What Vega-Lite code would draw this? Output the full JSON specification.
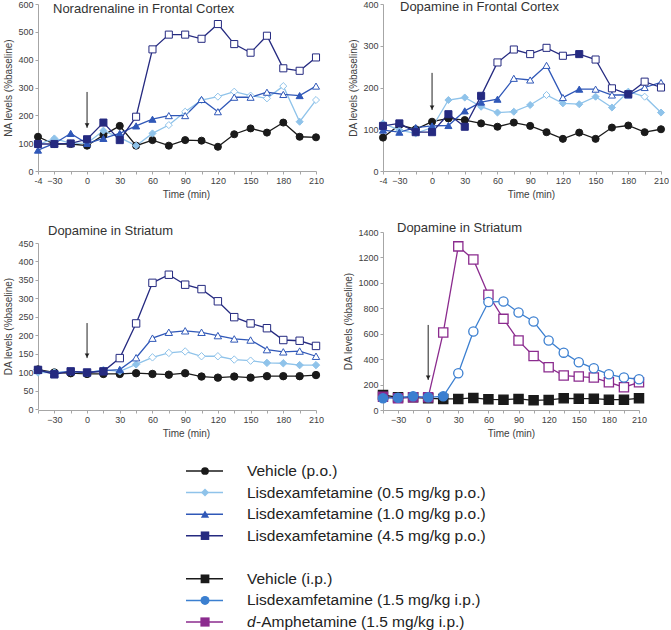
{
"$schema":"https://vega.github.io/schema/vega-lite/v6.json",
"background":"white",
"padding":{"left":3,"top":0,"right":0,"bottom":0},
"bounds":"flush",
"columns":2,
"spacing":{"row":61,"column":67},
"resolve":{"scale":{"x":"independent","y":"independent"}},
"datasets":{
"p1":[
{"s":"VP","t":-45,"v":123},{"s":"VP","t":-30,"v":97},{"s":"VP","t":-15,"v":97},{"s":"VP","t":0,"v":91},{"s":"VP","t":15,"v":129},{"s":"VP","t":30,"v":162},{"s":"VP","t":45,"v":91},{"s":"VP","t":60,"v":111},{"s":"VP","t":75,"v":91},{"s":"VP","t":90,"v":111},{"s":"VP","t":105,"v":109},{"s":"VP","t":120,"v":87},{"s":"VP","t":135,"v":132},{"s":"VP","t":150,"v":153},{"s":"VP","t":165,"v":138},{"s":"VP","t":180,"v":174},{"s":"VP","t":195,"v":123},{"s":"VP","t":210,"v":121},
{"s":"L05","t":-45,"v":95},{"s":"L05","t":-30,"v":117},{"s":"L05","t":-15,"v":99},{"s":"L05","t":0,"v":100},{"s":"L05","t":15,"v":145},{"s":"L05","t":30,"v":120},{"s":"L05","t":45,"v":91},{"s":"L05","t":60,"v":135},{"s":"L05","t":75,"v":165,"o":1},{"s":"L05","t":90,"v":213,"o":1},{"s":"L05","t":105,"v":255,"o":1},{"s":"L05","t":120,"v":267,"o":1},{"s":"L05","t":135,"v":285,"o":1},{"s":"L05","t":150,"v":271,"o":1},{"s":"L05","t":165,"v":261,"o":1},{"s":"L05","t":180,"v":305,"o":1},{"s":"L05","t":195,"v":177},{"s":"L05","t":210,"v":255,"o":1},
{"s":"L10","t":-45,"v":75},{"s":"L10","t":-30,"v":99},{"s":"L10","t":-15,"v":135},{"s":"L10","t":0,"v":99},{"s":"L10","t":15,"v":117},{"s":"L10","t":30,"v":135},{"s":"L10","t":45,"v":162},{"s":"L10","t":60,"v":186},{"s":"L10","t":75,"v":199,"o":1},{"s":"L10","t":90,"v":199,"o":1},{"s":"L10","t":105,"v":257,"o":1},{"s":"L10","t":120,"v":213,"o":1},{"s":"L10","t":135,"v":265,"o":1},{"s":"L10","t":150,"v":265,"o":1},{"s":"L10","t":165,"v":283,"o":1},{"s":"L10","t":180,"v":275,"o":1},{"s":"L10","t":195,"v":271},{"s":"L10","t":210,"v":305,"o":1},
{"s":"L45","t":-45,"v":97},{"s":"L45","t":-30,"v":97},{"s":"L45","t":-15,"v":99},{"s":"L45","t":0,"v":114},{"s":"L45","t":15,"v":174},{"s":"L45","t":30,"v":111},{"s":"L45","t":45,"v":195,"o":1},{"s":"L45","t":60,"v":437,"o":1},{"s":"L45","t":75,"v":490,"o":1},{"s":"L45","t":90,"v":490,"o":1},{"s":"L45","t":105,"v":475,"o":1},{"s":"L45","t":120,"v":528,"o":1},{"s":"L45","t":135,"v":456,"o":1},{"s":"L45","t":150,"v":425,"o":1},{"s":"L45","t":165,"v":486,"o":1},{"s":"L45","t":180,"v":369,"o":1},{"s":"L45","t":195,"v":360,"o":1},{"s":"L45","t":210,"v":408,"o":1}
],
"p2":[
{"s":"VP","t":-45,"v":80},{"s":"VP","t":-30,"v":110},{"s":"VP","t":-15,"v":100},{"s":"VP","t":0,"v":118},{"s":"VP","t":15,"v":126},{"s":"VP","t":30,"v":122},{"s":"VP","t":45,"v":114},{"s":"VP","t":60,"v":106},{"s":"VP","t":75,"v":116},{"s":"VP","t":90,"v":108},{"s":"VP","t":105,"v":93},{"s":"VP","t":120,"v":77},{"s":"VP","t":135,"v":92},{"s":"VP","t":150,"v":77},{"s":"VP","t":165,"v":104},{"s":"VP","t":180,"v":109},{"s":"VP","t":195,"v":93},{"s":"VP","t":210,"v":100},
{"s":"L05","t":-45,"v":114},{"s":"L05","t":-30,"v":98},{"s":"L05","t":-15,"v":90},{"s":"L05","t":0,"v":104},{"s":"L05","t":15,"v":170},{"s":"L05","t":30,"v":176},{"s":"L05","t":45,"v":154},{"s":"L05","t":60,"v":140},{"s":"L05","t":75,"v":142},{"s":"L05","t":90,"v":158},{"s":"L05","t":105,"v":182,"o":1},{"s":"L05","t":120,"v":162},{"s":"L05","t":135,"v":160},{"s":"L05","t":150,"v":178},{"s":"L05","t":165,"v":152},{"s":"L05","t":180,"v":190},{"s":"L05","t":195,"v":178,"o":1},{"s":"L05","t":210,"v":140},
{"s":"L10","t":-45,"v":98},{"s":"L10","t":-30,"v":93},{"s":"L10","t":-15,"v":104},{"s":"L10","t":0,"v":108},{"s":"L10","t":15,"v":109},{"s":"L10","t":30,"v":144},{"s":"L10","t":45,"v":165},{"s":"L10","t":60,"v":172},{"s":"L10","t":75,"v":222,"o":1},{"s":"L10","t":90,"v":218,"o":1},{"s":"L10","t":105,"v":253,"o":1},{"s":"L10","t":120,"v":176,"o":1},{"s":"L10","t":135,"v":196},{"s":"L10","t":150,"v":196,"o":1},{"s":"L10","t":165,"v":182,"o":1},{"s":"L10","t":180,"v":182,"o":1},{"s":"L10","t":195,"v":200,"o":1},{"s":"L10","t":210,"v":212,"o":1},
{"s":"L45","t":-45,"v":108},{"s":"L45","t":-30,"v":114},{"s":"L45","t":-15,"v":93},{"s":"L45","t":0,"v":93},{"s":"L45","t":15,"v":136},{"s":"L45","t":30,"v":106},{"s":"L45","t":45,"v":180},{"s":"L45","t":60,"v":260,"o":1},{"s":"L45","t":75,"v":291,"o":1},{"s":"L45","t":90,"v":280,"o":1},{"s":"L45","t":105,"v":295,"o":1},{"s":"L45","t":120,"v":276,"o":1},{"s":"L45","t":135,"v":280},{"s":"L45","t":150,"v":267,"o":1},{"s":"L45","t":165,"v":198,"o":1},{"s":"L45","t":180,"v":184},{"s":"L45","t":195,"v":214,"o":1},{"s":"L45","t":210,"v":200,"o":1}
],
"p3":[
{"s":"VP","t":-45,"v":107},{"s":"VP","t":-30,"v":99},{"s":"VP","t":-15,"v":97},{"s":"VP","t":0,"v":95},{"s":"VP","t":15,"v":95},{"s":"VP","t":30,"v":95},{"s":"VP","t":45,"v":97},{"s":"VP","t":60,"v":95},{"s":"VP","t":75,"v":93},{"s":"VP","t":90,"v":97},{"s":"VP","t":105,"v":88},{"s":"VP","t":120,"v":85},{"s":"VP","t":135,"v":88},{"s":"VP","t":150,"v":85},{"s":"VP","t":165,"v":89},{"s":"VP","t":180,"v":89},{"s":"VP","t":195,"v":89},{"s":"VP","t":210,"v":92},
{"s":"L05","t":-45,"v":99},{"s":"L05","t":-30,"v":99},{"s":"L05","t":-15,"v":101},{"s":"L05","t":0,"v":98},{"s":"L05","t":15,"v":106},{"s":"L05","t":30,"v":102},{"s":"L05","t":45,"v":121},{"s":"L05","t":60,"v":140,"o":1},{"s":"L05","t":75,"v":152,"o":1},{"s":"L05","t":90,"v":156,"o":1},{"s":"L05","t":105,"v":143,"o":1},{"s":"L05","t":120,"v":143,"o":1},{"s":"L05","t":135,"v":134,"o":1},{"s":"L05","t":150,"v":131,"o":1},{"s":"L05","t":165,"v":125},{"s":"L05","t":180,"v":124},{"s":"L05","t":195,"v":119},{"s":"L05","t":210,"v":119},
{"s":"L10","t":-45,"v":105},{"s":"L10","t":-30,"v":97},{"s":"L10","t":-15,"v":102},{"s":"L10","t":0,"v":99},{"s":"L10","t":15,"v":104},{"s":"L10","t":30,"v":107},{"s":"L10","t":45,"v":139,"o":1},{"s":"L10","t":60,"v":192,"o":1},{"s":"L10","t":75,"v":208,"o":1},{"s":"L10","t":90,"v":212,"o":1},{"s":"L10","t":105,"v":208,"o":1},{"s":"L10","t":120,"v":199,"o":1},{"s":"L10","t":135,"v":190,"o":1},{"s":"L10","t":150,"v":187,"o":1},{"s":"L10","t":165,"v":161,"o":1},{"s":"L10","t":180,"v":155,"o":1},{"s":"L10","t":195,"v":157,"o":1},{"s":"L10","t":210,"v":143,"o":1},
{"s":"L45","t":-45,"v":106},{"s":"L45","t":-30,"v":94},{"s":"L45","t":-15,"v":102},{"s":"L45","t":0,"v":99},{"s":"L45","t":15,"v":102},{"s":"L45","t":30,"v":138,"o":1},{"s":"L45","t":45,"v":232,"o":1},{"s":"L45","t":60,"v":342,"o":1},{"s":"L45","t":75,"v":364,"o":1},{"s":"L45","t":90,"v":337,"o":1},{"s":"L45","t":105,"v":325,"o":1},{"s":"L45","t":120,"v":292,"o":1},{"s":"L45","t":135,"v":249,"o":1},{"s":"L45","t":150,"v":232,"o":1},{"s":"L45","t":165,"v":219,"o":1},{"s":"L45","t":180,"v":187,"o":1},{"s":"L45","t":195,"v":185,"o":1},{"s":"L45","t":210,"v":171,"o":1}
],
"p4":[
{"s":"VI","t":-45,"v":118},{"s":"VI","t":-30,"v":100},{"s":"VI","t":-15,"v":100},{"s":"VI","t":0,"v":92},{"s":"VI","t":15,"v":87},{"s":"VI","t":30,"v":87},{"s":"VI","t":45,"v":95},{"s":"VI","t":60,"v":84},{"s":"VI","t":75,"v":81},{"s":"VI","t":90,"v":87},{"s":"VI","t":105,"v":76},{"s":"VI","t":120,"v":79},{"s":"VI","t":135,"v":92},{"s":"VI","t":150,"v":89},{"s":"VI","t":165,"v":89},{"s":"VI","t":180,"v":81},{"s":"VI","t":195,"v":81},{"s":"VI","t":210,"v":92},
{"s":"DA","t":-45,"v":105},{"s":"DA","t":-30,"v":92},{"s":"DA","t":-15,"v":100},{"s":"DA","t":0,"v":100},{"s":"DA","t":15,"v":609,"o":1},{"s":"DA","t":30,"v":1287,"o":1},{"s":"DA","t":45,"v":1184,"o":1},{"s":"DA","t":60,"v":906,"o":1},{"s":"DA","t":75,"v":717,"o":1},{"s":"DA","t":90,"v":546,"o":1},{"s":"DA","t":105,"v":425,"o":1},{"s":"DA","t":120,"v":336,"o":1},{"s":"DA","t":135,"v":271,"o":1},{"s":"DA","t":150,"v":263,"o":1},{"s":"DA","t":165,"v":255,"o":1},{"s":"DA","t":180,"v":218,"o":1},{"s":"DA","t":195,"v":179,"o":1},{"s":"DA","t":210,"v":218,"o":1},
{"s":"LI","t":-45,"v":92},{"s":"LI","t":-30,"v":97},{"s":"LI","t":-15,"v":108},{"s":"LI","t":0,"v":100},{"s":"LI","t":15,"v":108},{"s":"LI","t":30,"v":289,"o":1},{"s":"LI","t":45,"v":617,"o":1},{"s":"LI","t":60,"v":849,"o":1},{"s":"LI","t":75,"v":854,"o":1},{"s":"LI","t":90,"v":767,"o":1},{"s":"LI","t":105,"v":696,"o":1},{"s":"LI","t":120,"v":546,"o":1},{"s":"LI","t":135,"v":451,"o":1},{"s":"LI","t":150,"v":376,"o":1},{"s":"LI","t":165,"v":328,"o":1},{"s":"LI","t":180,"v":281,"o":1},{"s":"LI","t":195,"v":255,"o":1},{"s":"LI","t":210,"v":242,"o":1}
],
"leg":[
{"s":"VP","label":"Vehicle (p.o.)"},{"s":"L05","label":"Lisdexamfetamine (0.5 mg/kg p.o.)"},{"s":"L10","label":"Lisdexamfetamine (1.0 mg/kg p.o.)"},{"s":"L45","label":"Lisdexamfetamine (4.5 mg/kg p.o.)"},{"s":"VI","label":"Vehicle (i.p.)"},{"s":"LI","label":"Lisdexamfetamine (1.5 mg/kg i.p.)"},{"s":"DA","label":"-Amphetamine (1.5 mg/kg i.p.)"}
]
},
"concat":[
{"width":278,"height":167,
"title":{"text":"Noradrenaline in Frontal Cortex","anchor":"start","frame":"group","dx":15,"offset":-16},
"layer":[
{"data":{"name":"p1"},"mark":{"type":"line","strokeWidth":1.3},"encoding":{
"x":{"field":"t","type":"quantitative","title":"Time (min)","scale":{"domain":[-45,210],"nice":false,"zero":false},"axis":{"values":[-45,-30,-15,0,15,30,45,60,75,90,105,120,135,150,165,180,195,210],"tickCount":100,"titleX":148,"labelExpr":"datum.value == -45 ? '-4' : (datum.value % 30 == 0 ? datum.label : '')","labelFlush":false,"labelOverlap":false}},
"y":{"field":"v","type":"quantitative","title":"NA levels (%baseline)","scale":{"domain":[0,600],"nice":false},"axis":{"values":[0,100,200,300,400,500,600],"tickCount":100,"labelOverlap":false}},
"color":{"field":"s","type":"nominal","scale":{"domain":["VP","L05","L10","L45","VI","LI","DA"],"range":["#1a1a1a","#8fc3ea","#3058b8","#252a80","#1a1a1a","#3b7fd0","#8b2b8e"]},"legend":null}}},
{"data":{"name":"p1"},"mark":{"type":"point","filled":true,"size":50,"strokeWidth":1,"opacity":1},"encoding":{
"x":{"field":"t","type":"quantitative","title":"Time (min)"},
"y":{"field":"v","type":"quantitative","title":"NA levels (%baseline)"},
"shape":{"field":"s","type":"nominal","scale":{"domain":["VP","L05","L10","L45","VI","LI","DA"],"range":["circle","diamond","triangle-up","square","square","circle","square"]},"legend":null},
"stroke":{"field":"s","type":"nominal","scale":{"domain":["VP","L05","L10","L45","VI","LI","DA"],"range":["#1a1a1a","#8fc3ea","#3058b8","#252a80","#1a1a1a","#3b7fd0","#8b2b8e"]},"legend":null},
"fill":{"condition":{"test":"datum.o","value":"white"},"field":"s","type":"nominal","scale":{"domain":["VP","L05","L10","L45","VI","LI","DA"],"range":["#1a1a1a","#8fc3ea","#3058b8","#252a80","#1a1a1a","#3b7fd0","#8b2b8e"]},"legend":null}}},
{"data":{"values":[{"t":0,"a":284,"b":155,"h":164}]},"mark":{"type":"rule","color":"#222","strokeWidth":1},"encoding":{"x":{"field":"t","type":"quantitative","title":"Time (min)"},"y":{"field":"a","type":"quantitative","title":"NA levels (%baseline)"},"y2":{"field":"b"}}},
{"data":{"values":[{"t":0,"a":284,"b":155,"h":164}]},"mark":{"type":"point","shape":"triangle-down","filled":true,"color":"#222","size":22,"opacity":1},"encoding":{"x":{"field":"t","type":"quantitative","title":"Time (min)"},"y":{"field":"h","type":"quantitative","title":"NA levels (%baseline)"}}}
]},
{"width":278,"height":167,
"title":{"text":"Dopamine in Frontal Cortex","anchor":"start","frame":"group","dx":17,"offset":-14},
"layer":[
{"data":{"name":"p2"},"mark":{"type":"line","strokeWidth":1.3},"encoding":{
"x":{"field":"t","type":"quantitative","title":"Time (min)","scale":{"domain":[-45,210],"nice":false,"zero":false},"axis":{"values":[-45,-30,-15,0,15,30,45,60,75,90,105,120,135,150,165,180,195,210],"tickCount":100,"titleX":148,"labelExpr":"datum.value == -45 ? '-4' : (datum.value % 30 == 0 ? datum.label : '')","labelFlush":false,"labelOverlap":false}},
"y":{"field":"v","type":"quantitative","title":"DA levels (%baseline)","scale":{"domain":[0,400],"nice":false},"axis":{"values":[0,100,200,300,400],"tickCount":100,"labelOverlap":false}},
"color":{"field":"s","type":"nominal","scale":{"domain":["VP","L05","L10","L45","VI","LI","DA"],"range":["#1a1a1a","#8fc3ea","#3058b8","#252a80","#1a1a1a","#3b7fd0","#8b2b8e"]},"legend":null}}},
{"data":{"name":"p2"},"mark":{"type":"point","filled":true,"size":50,"strokeWidth":1,"opacity":1},"encoding":{
"x":{"field":"t","type":"quantitative","title":"Time (min)"},
"y":{"field":"v","type":"quantitative","title":"DA levels (%baseline)"},
"shape":{"field":"s","type":"nominal","scale":{"domain":["VP","L05","L10","L45","VI","LI","DA"],"range":["circle","diamond","triangle-up","square","square","circle","square"]},"legend":null},
"stroke":{"field":"s","type":"nominal","scale":{"domain":["VP","L05","L10","L45","VI","LI","DA"],"range":["#1a1a1a","#8fc3ea","#3058b8","#252a80","#1a1a1a","#3b7fd0","#8b2b8e"]},"legend":null},
"fill":{"condition":{"test":"datum.o","value":"white"},"field":"s","type":"nominal","scale":{"domain":["VP","L05","L10","L45","VI","LI","DA"],"range":["#1a1a1a","#8fc3ea","#3058b8","#252a80","#1a1a1a","#3b7fd0","#8b2b8e"]},"legend":null}}},
{"data":{"values":[{"t":0,"a":235,"b":146,"h":152}]},"mark":{"type":"rule","color":"#222","strokeWidth":1},"encoding":{"x":{"field":"t","type":"quantitative","title":"Time (min)"},"y":{"field":"a","type":"quantitative","title":"DA levels (%baseline)"},"y2":{"field":"b"}}},
{"data":{"values":[{"t":0,"a":235,"b":146,"h":152}]},"mark":{"type":"point","shape":"triangle-down","filled":true,"color":"#222","size":22,"opacity":1},"encoding":{"x":{"field":"t","type":"quantitative","title":"Time (min)"},"y":{"field":"h","type":"quantitative","title":"DA levels (%baseline)"}}}
]},
{"width":278,"height":178,
"title":{"text":"Dopamine in Striatum","anchor":"start","frame":"group","dx":10,"offset":-6},
"layer":[
{"data":{"name":"p3"},"mark":{"type":"line","strokeWidth":1.3},"encoding":{
"x":{"field":"t","type":"quantitative","title":"Time (min)","scale":{"domain":[-45,210],"nice":false,"zero":false},"axis":{"values":[-45,-30,-15,0,15,30,45,60,75,90,105,120,135,150,165,180,195,210],"tickCount":100,"titleX":148,"labelExpr":"datum.value % 30 == 0 && datum.value != -45 ? datum.label : ''","labelFlush":false,"labelOverlap":false}},
"y":{"field":"v","type":"quantitative","title":"DA levels (%baseline)","scale":{"domain":[0,450],"nice":false,"range":[177,11]},"axis":{"values":[0,50,100,150,200,250,300,350,400,450],"tickCount":100,"labelOverlap":false}},
"color":{"field":"s","type":"nominal","scale":{"domain":["VP","L05","L10","L45","VI","LI","DA"],"range":["#1a1a1a","#8fc3ea","#3058b8","#252a80","#1a1a1a","#3b7fd0","#8b2b8e"]},"legend":null}}},
{"data":{"name":"p3"},"mark":{"type":"point","filled":true,"size":55,"strokeWidth":1,"opacity":1},"encoding":{
"x":{"field":"t","type":"quantitative","title":"Time (min)"},
"y":{"field":"v","type":"quantitative","title":"DA levels (%baseline)"},
"shape":{"field":"s","type":"nominal","scale":{"domain":["VP","L05","L10","L45","VI","LI","DA"],"range":["circle","diamond","triangle-up","square","square","circle","square"]},"legend":null},
"stroke":{"field":"s","type":"nominal","scale":{"domain":["VP","L05","L10","L45","VI","LI","DA"],"range":["#1a1a1a","#8fc3ea","#3058b8","#252a80","#1a1a1a","#3b7fd0","#8b2b8e"]},"legend":null},
"fill":{"condition":{"test":"datum.o","value":"white"},"field":"s","type":"nominal","scale":{"domain":["VP","L05","L10","L45","VI","LI","DA"],"range":["#1a1a1a","#8fc3ea","#3058b8","#252a80","#1a1a1a","#3b7fd0","#8b2b8e"]},"legend":null}}},
{"data":{"values":[{"t":0,"a":233,"b":138,"h":145}]},"mark":{"type":"rule","color":"#222","strokeWidth":1},"encoding":{"x":{"field":"t","type":"quantitative","title":"Time (min)"},"y":{"field":"a","type":"quantitative","title":"DA levels (%baseline)"},"y2":{"field":"b"}}},
{"data":{"values":[{"t":0,"a":233,"b":138,"h":145}]},"mark":{"type":"point","shape":"triangle-down","filled":true,"color":"#222","size":22,"opacity":1},"encoding":{"x":{"field":"t","type":"quantitative","title":"Time (min)"},"y":{"field":"h","type":"quantitative","title":"DA levels (%baseline)"}}}
]},
{"width":256,"height":178,
"title":{"text":"Dopamine in Striatum","anchor":"start","frame":"group","dx":14,"offset":-7},
"layer":[
{"data":{"name":"p4"},"mark":{"type":"line","strokeWidth":1.3},"encoding":{
"x":{"field":"t","type":"quantitative","title":"Time (min)","scale":{"domain":[-45,210],"nice":false,"zero":false},"axis":{"values":[-45,-30,-15,0,15,30,45,60,75,90,105,120,135,150,165,180,195,210],"tickCount":100,"labelExpr":"datum.value % 30 == 0 && datum.value != -45 ? datum.label : ''","labelFlush":false,"labelOverlap":false}},
"y":{"field":"v","type":"quantitative","title":"DA levels (%baseline)","scale":{"domain":[0,1400],"nice":false},"axis":{"values":[0,200,400,600,800,1000,1200,1400],"tickCount":100,"format":"d","labelOverlap":false}},
"color":{"field":"s","type":"nominal","scale":{"domain":["VP","L05","L10","L45","VI","LI","DA"],"range":["#1a1a1a","#8fc3ea","#3058b8","#252a80","#1a1a1a","#4472c4","#8b2b8e"]},"legend":null}}},
{"data":{"name":"p4"},"mark":{"type":"point","filled":true,"size":85,"strokeWidth":1.3,"opacity":1},"encoding":{
"x":{"field":"t","type":"quantitative","title":"Time (min)"},
"y":{"field":"v","type":"quantitative","title":"DA levels (%baseline)"},
"shape":{"field":"s","type":"nominal","scale":{"domain":["VP","L05","L10","L45","VI","LI","DA"],"range":["circle","diamond","triangle-up","square","square","circle","square"]},"legend":null},
"stroke":{"field":"s","type":"nominal","scale":{"domain":["VP","L05","L10","L45","VI","LI","DA"],"range":["#1a1a1a","#8fc3ea","#3058b8","#252a80","#1a1a1a","#2a8ad8","#8b2b8e"]},"legend":null},
"fill":{"condition":{"test":"datum.o","value":"white"},"field":"s","type":"nominal","scale":{"domain":["VP","L05","L10","L45","VI","LI","DA"],"range":["#1a1a1a","#8fc3ea","#3058b8","#252a80","#1a1a1a","#4472c4","#8b2b8e"]},"legend":null}}},
{"data":{"values":[{"t":0,"a":669,"b":236,"h":256}]},"mark":{"type":"rule","color":"#222","strokeWidth":1},"encoding":{"x":{"field":"t","type":"quantitative","title":"Time (min)"},"y":{"field":"a","type":"quantitative","title":"DA levels (%baseline)"},"y2":{"field":"b"}}},
{"data":{"values":[{"t":0,"a":669,"b":236,"h":256}]},"mark":{"type":"point","shape":"triangle-down","filled":true,"color":"#222","size":22,"opacity":1},"encoding":{"x":{"field":"t","type":"quantitative","title":"Time (min)"},"y":{"field":"h","type":"quantitative","title":"DA levels (%baseline)"}}}
]},
{"width":278,"height":151,"data":{"name":"leg"},
"layer":[
{"mark":{"type":"rule","strokeWidth":1.5},"encoding":{
"x":{"datum":148,"type":"quantitative","scale":{"domain":[0,278],"nice":false},"axis":null},
"x2":{"datum":185},
"y":{"field":"s","type":"nominal","scale":{"type":"point","domain":["VP","L05","L10","L45","gap","VI","LI","DA"],"padding":0},"axis":null},
"color":{"field":"s","type":"nominal","scale":{"domain":["VP","L05","L10","L45","VI","LI","DA"],"range":["#1a1a1a","#8fc3ea","#3058b8","#252a80","#1a1a1a","#8cb8e8","#8b2b8e"]},"legend":null}}},
{"mark":{"type":"point","filled":true,"opacity":1},"encoding":{
"x":{"datum":167,"type":"quantitative"},
"y":{"field":"s","type":"nominal"},
"shape":{"field":"s","type":"nominal","scale":{"domain":["VP","L05","L10","L45","VI","LI","DA"],"range":["circle","diamond","triangle-up","square","square","circle","square"]},"legend":null},
"size":{"field":"s","type":"nominal","scale":{"domain":["VP","L05","L10","L45","VI","LI","DA"],"range":[60,85,75,60,140,90,100]},"legend":null},
"fill":{"field":"s","type":"nominal","scale":{"domain":["VP","L05","L10","L45","VI","LI","DA"],"range":["#1a1a1a","#8fc3ea","#3058b8","#252a80","#1a1a1a","#4a7cc8","#8b2b8e"]},"legend":null}}},
{"transform":[{"filter":"datum.s != 'DA'"}],"mark":{"type":"text","align":"left","baseline":"middle","fontSize":15.5,"color":"#222"},"encoding":{
"x":{"datum":209,"type":"quantitative"},"y":{"field":"s","type":"nominal"},"text":{"field":"label"}}},
{"transform":[{"filter":"datum.s == 'DA'"}],"mark":{"type":"text","align":"left","baseline":"middle","fontSize":15.5,"fontStyle":"italic","color":"#222"},"encoding":{
"x":{"datum":209,"type":"quantitative"},"y":{"field":"s","type":"nominal"},"text":{"value":"d"}}},
{"transform":[{"filter":"datum.s == 'DA'"}],"mark":{"type":"text","align":"left","baseline":"middle","fontSize":15.5,"dx":9,"color":"#222"},"encoding":{
"x":{"datum":209,"type":"quantitative"},"y":{"field":"s","type":"nominal"},"text":{"field":"label"}}}
]}
],
"config":{"font":"Liberation Sans","view":{"stroke":null},
"axis":{"grid":false,"labelOverlap":false,"domainColor":"#a6a6a6","tickColor":"#a6a6a6","tickSize":3,"labelColor":"#404040","titleColor":"#404040","labelFontSize":9,"titleFontSize":10,"titleFontWeight":"normal","labelFont":"Liberation Sans","titleFont":"Liberation Sans"},
"title":{"fontSize":13,"fontWeight":"normal","color":"#333333","font":"Liberation Sans"}}
}
